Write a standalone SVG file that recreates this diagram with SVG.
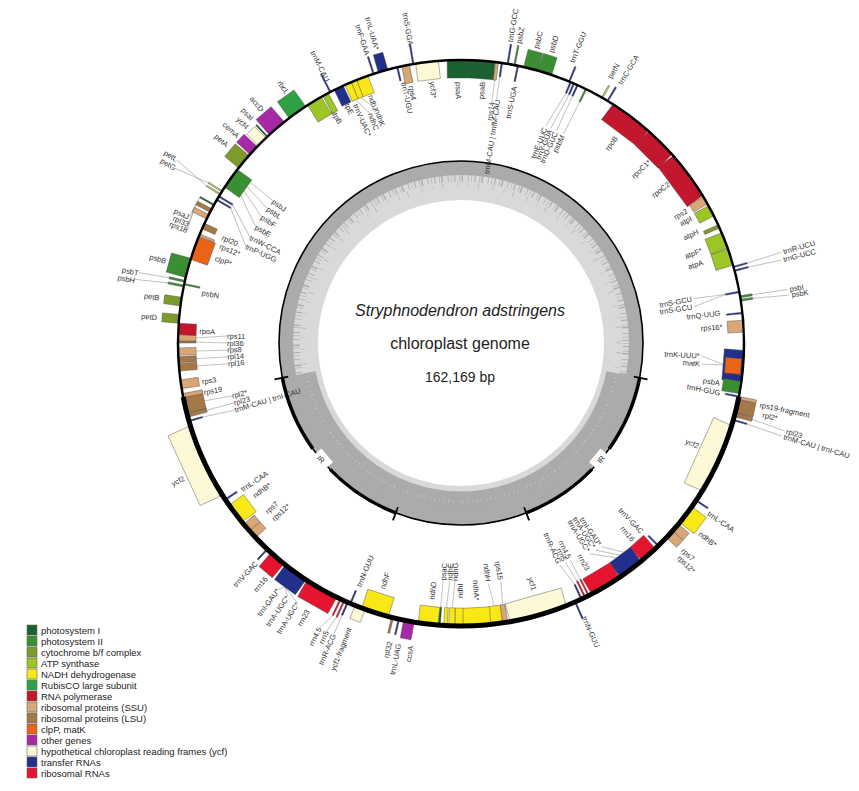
<svg xmlns="http://www.w3.org/2000/svg" width="859" height="791" viewBox="0 0 859 791">
<style>
.l{font-family:"Liberation Sans",Arial,sans-serif;font-size:7.5px;fill:#333}
.s{text-anchor:start}.e{text-anchor:end}
.g rect{stroke:#444;stroke-width:0.4}
.ld line{stroke:#8a8a8a;stroke-width:0.5}
.psI{fill:#1b6132}.psII{fill:#3a8f32}.cyt{fill:#7e9a2c}.cytL{fill:#b8d36a}.atp{fill:#9cc526}.yel{fill:#f7e816}.rub{fill:#2fa043}
.rnap{fill:#c2172c}.ssu{fill:#d8a677}.lsu{fill:#a57947}.clp{fill:#ea6316}.oth{fill:#a62aa6}.ycf{fill:#fdf9d6}.t{fill:#22308c}.rr{fill:#e51530}
.lg{font-family:"Liberation Sans",Arial,sans-serif;font-size:9.5px;fill:#222}
.lgr{stroke:#666;stroke-width:0.6}
</style>
<rect width="859" height="791" fill="#fff"/>
<g id="gc">
<circle cx="461" cy="343" r="162.5" fill="none" stroke="#d9d9d9" stroke-width="39"/>
<circle cx="461" cy="343" r="175" fill="none" stroke="#ababab" stroke-width="14"/>
<circle cx="461" cy="343" r="165" fill="none" stroke="#ababab" stroke-width="7" stroke-dasharray="0.5 2.5 1 4 0.6 1.5 1.4 5 0.7 3"/>
<circle cx="461" cy="343" r="158" fill="none" stroke="#b3b3b3" stroke-width="5" stroke-dasharray="0.5 9 0.8 14 0.5 11"/>
<path d="M616.2,373.2 A158 158 0 0 1 305.8 373.2" fill="none" stroke="#ababab" stroke-width="20"/>
<path d="M616.2,373.2 A158 158 0 0 1 305.8 373.2" fill="none" stroke="#c4c4c4" stroke-width="3" stroke-dasharray="0.5 4 1 3 0.6 5"/>
</g>
<g id="labels">
<text class="l s" dy="2.6" transform="rotate(-0.6 461 343) translate(461 82) rotate(90)">psaA</text>
<text class="l e" dy="2.6" transform="rotate(4.7 461 343) translate(461 81) rotate(-90)">psaB</text>
<text class="l e" dy="2.6" transform="rotate(7.3 461 343) translate(461 100) rotate(-90)">rps14</text>
<text class="l e" dy="2.6" transform="rotate(8.6 461 343) translate(461 97) rotate(-90)">trnM-CAU | trnfM-CAU</text>
<text class="l s" dy="2.6" transform="rotate(9.3 461 343) translate(461 38) rotate(-90)">trnG-GCC</text>
<text class="l s" dy="2.6" transform="rotate(10.9 461 343) translate(461 38) rotate(-90)">psbZ</text>
<text class="l e" dy="2.6" transform="rotate(11.8 461 343) translate(461 81) rotate(-90)">trnS-UGA</text>
<text class="l s" dy="2.6" transform="rotate(14.3 461 343) translate(461 39) rotate(-90)">psbC</text>
<text class="l s" dy="2.6" transform="rotate(17.2 461 343) translate(461 39) rotate(-90)">psbD</text>
<text class="l s" dy="2.6" transform="rotate(21.6 461 343) translate(461 41) rotate(-90)">trnT-GGU</text>
<text class="l e" dy="2.6" transform="rotate(21.3 461 343) translate(461 112) rotate(-90)">trnE-UUC</text>
<text class="l e" dy="2.6" transform="rotate(22.7 461 343) translate(461 112) rotate(-90)">trnY-GUA</text>
<text class="l e" dy="2.6" transform="rotate(24.2 461 343) translate(461 112) rotate(-90)">trnD-GUC</text>
<text class="l e" dy="2.6" transform="rotate(26.1 461 343) translate(461 112) rotate(-90)">psbM</text>
<text class="l s" dy="2.6" transform="rotate(29.3 461 343) translate(461 39) rotate(-90)">petN</text>
<text class="l s" dy="2.6" transform="rotate(31.5 461 343) translate(461 39) rotate(-90)">trnC-GCA</text>
<text class="l e" dy="2.6" transform="rotate(37 461 343) translate(461 85) rotate(-90)">rpoB</text>
<text class="l e" dy="2.6" transform="rotate(46 461 343) translate(461 81) rotate(-90)">rpoC1*</text>
<text class="l e" dy="2.6" transform="rotate(52.5 461 343) translate(461 81) rotate(-90)">rpoC2</text>
<text class="l e" dy="2.6" transform="rotate(59.6 461 343) translate(461 81) rotate(-90)">rps2</text>
<text class="l e" dy="2.6" transform="rotate(61.5 461 343) translate(461 81) rotate(-90)">atpI</text>
<text class="l e" dy="2.6" transform="rotate(64.8 461 343) translate(461 81) rotate(-90)">atpH</text>
<text class="l e" dy="2.6" transform="rotate(68.9 461 343) translate(461 85) rotate(-90)">atpF*</text>
<text class="l e" dy="2.6" transform="rotate(71.5 461 343) translate(461 88) rotate(-90)">atpA</text>
<text class="l s" dy="2.6" transform="rotate(74.2 461 343) translate(461 8) rotate(-90)">trnR-UCU</text>
<text class="l s" dy="2.6" transform="rotate(75.5 461 343) translate(461 10) rotate(-90)">trnG-UCC</text>
<text class="l e" dy="2.6" transform="rotate(79.2 461 343) translate(461 108) rotate(-90)">trnS-GCU</text>
<text class="l e" dy="2.6" transform="rotate(81.1 461 343) translate(461 109) rotate(-90)">trnS-GCU</text>
<text class="l s" dy="2.6" transform="rotate(80.7 461 343) translate(461 10) rotate(-90)">psbI</text>
<text class="l s" dy="2.6" transform="rotate(81.7 461 343) translate(461 9) rotate(-90)">psbK</text>
<text class="l e" dy="2.6" transform="rotate(83.4 461 343) translate(461 82) rotate(-90)">trnQ-UUG</text>
<text class="l e" dy="2.6" transform="rotate(86.5 461 343) translate(461 81) rotate(-90)">rps16*</text>
<text class="l e" dy="2.6" transform="rotate(93.1 461 343) translate(461 104) rotate(-90)">trnK-UUU*</text>
<text class="l e" dy="2.6" transform="rotate(95 461 343) translate(461 103) rotate(-90)">matK</text>
<text class="l e" dy="2.6" transform="rotate(98.8 461 343) translate(461 81) rotate(-90)">psbA</text>
<text class="l e" dy="2.6" transform="rotate(100.9 461 343) translate(461 79) rotate(-90)">trnH-GUG</text>
<text class="l s" dy="2.6" transform="rotate(101.7 461 343) translate(461 38) rotate(-90)">rps19-fragment</text>
<text class="l s" dy="2.6" transform="rotate(103.4 461 343) translate(461 33) rotate(-90)">rpl2*</text>
<text class="l s" dy="2.6" transform="rotate(105.2 461 343) translate(461 6) rotate(-90)">rpl23</text>
<text class="l s" dy="2.6" transform="rotate(106.2 461 343) translate(461 7) rotate(-90)">trnM-CAU | trnI-CAU</text>
<text class="l e" dy="2.6" transform="rotate(113.5 461 343) translate(461 84) rotate(-90)">ycf2</text>
<text class="l s" dy="2.6" transform="rotate(124.5 461 343) translate(461 43) rotate(-90)">trnL-CAA</text>
<text class="l s" dy="2.6" transform="rotate(128.5 461 343) translate(461 38) rotate(-90)">ndhB*</text>
<text class="l s" dy="2.6" transform="rotate(133 461 343) translate(461 40) rotate(-90)">rps7</text>
<text class="l s" dy="2.6" transform="rotate(134.5 461 343) translate(461 38) rotate(-90)">rps12*</text>
<text class="l e" dy="2.6" transform="rotate(136.3 461 343) translate(461 81) rotate(-90)">trnV-GAC</text>
<text class="l e" dy="2.6" transform="rotate(138.9 461 343) translate(461 81) rotate(-90)">rrn16</text>
<text class="l e" dy="2.6" transform="rotate(145.5 461 343) translate(461 98) rotate(-90)">trnI-GAU*</text>
<text class="l e" dy="2.6" transform="rotate(147 461 343) translate(461 99) rotate(-90)">trnA-UGC*</text>
<text class="l e" dy="2.6" transform="rotate(148.6 461 343) translate(461 99) rotate(-90)">trnA-UGC*</text>
<text class="l e" dy="2.6" transform="rotate(150.8 461 343) translate(461 83) rotate(-90)">rrn23</text>
<text class="l e" dy="2.6" transform="rotate(153.3 461 343) translate(461 102) rotate(-90)">rrn4.5</text>
<text class="l e" dy="2.6" transform="rotate(154.6 461 343) translate(461 102) rotate(-90)">rrn5</text>
<text class="l e" dy="2.6" transform="rotate(156 461 343) translate(461 102) rotate(-90)">trnR-ACG</text>
<text class="l s" dy="2.6" transform="rotate(155.8 461 343) translate(461 43) rotate(-90)">trnN-GUU</text>
<text class="l e" dy="2.6" transform="rotate(163.5 461 343) translate(461 85) rotate(-90)">ycf1</text>
<text class="l e" dy="2.6" transform="rotate(170.5 461 343) translate(461 103) rotate(-90)">rps15</text>
<text class="l e" dy="2.6" transform="rotate(173.5 461 343) translate(461 103) rotate(-90)">ndhH</text>
<text class="l e" dy="2.6" transform="rotate(176.5 461 343) translate(461 85) rotate(-90)">ndhA*</text>
<text class="l s" dy="2.6" transform="rotate(-179.8 461 343) translate(461 88) rotate(90)">ndhI</text>
<text class="l s" dy="2.6" transform="rotate(-178.6 461 343) translate(461 105) rotate(90)">ndhG</text>
<text class="l s" dy="2.6" transform="rotate(-177.3 461 343) translate(461 105) rotate(90)">ndhE</text>
<text class="l s" dy="2.6" transform="rotate(-175.7 461 343) translate(461 105) rotate(90)">psaC</text>
<text class="l s" dy="2.6" transform="rotate(-173.5 461 343) translate(461 85) rotate(90)">ndhD</text>
<text class="l e" dy="2.6" transform="rotate(-170.6 461 343) translate(461 36) rotate(90)">ccsA</text>
<text class="l e" dy="2.6" transform="rotate(-168.3 461 343) translate(461 36) rotate(90)">trnL-UAG</text>
<text class="l e" dy="2.6" transform="rotate(-166.6 461 343) translate(461 36) rotate(90)">rpl32</text>
<text class="l s" dy="2.6" transform="rotate(-162.3 461 343) translate(461 85) rotate(90)">ndhF</text>
<text class="l s" dy="2.6" transform="rotate(-157.2 461 343) translate(461 79) rotate(90)">trnN-GUU</text>
<text class="l e" dy="2.6" transform="rotate(-158.6 461 343) translate(461 37) rotate(90)">ycf1-fragment</text>
<text class="l e" dy="2.6" transform="rotate(-156.4 461 343) translate(461 25) rotate(90)">trnR-ACG</text>
<text class="l e" dy="2.6" transform="rotate(-155 461 343) translate(461 25) rotate(90)">rrn5</text>
<text class="l e" dy="2.6" transform="rotate(-153.6 461 343) translate(461 25) rotate(90)">rrn4.5</text>
<text class="l e" dy="2.6" transform="rotate(-150.2 461 343) translate(461 35) rotate(90)">rrn23</text>
<text class="l e" dy="2.6" transform="rotate(-147.8 461 343) translate(461 36) rotate(90)">trnA-UGC*</text>
<text class="l e" dy="2.6" transform="rotate(-145.6 461 343) translate(461 36) rotate(90)">trnA-UGC*</text>
<text class="l e" dy="2.6" transform="rotate(-143.4 461 343) translate(461 36) rotate(90)">trnI-GAU*</text>
<text class="l e" dy="2.6" transform="rotate(-140.3 461 343) translate(461 38) rotate(90)">rrn16</text>
<text class="l e" dy="2.6" transform="rotate(-137 461 343) translate(461 43) rotate(90)">trnV-GAC</text>
<text class="l s" dy="2.6" transform="rotate(-133.2 461 343) translate(461 85) rotate(90)">rps12*</text>
<text class="l s" dy="2.6" transform="rotate(-131 461 343) translate(461 85) rotate(90)">rps7</text>
<text class="l s" dy="2.6" transform="rotate(-126.5 461 343) translate(461 85) rotate(90)">ndhB*</text>
<text class="l s" dy="2.6" transform="rotate(-123.8 461 343) translate(461 79) rotate(90)">trnL-CAA</text>
<text class="l e" dy="2.6" transform="rotate(-116 461 343) translate(461 35) rotate(90)">ycf2</text>
<text class="l s" dy="2.6" transform="rotate(-106.5 461 343) translate(461 107) rotate(90)">trnM-CAU | trnI-CAU</text>
<text class="l s" dy="2.6" transform="rotate(-104.8 461 343) translate(461 108) rotate(90)">rpl23</text>
<text class="l s" dy="2.6" transform="rotate(-103 461 343) translate(461 108) rotate(90)">rpl2*</text>
<text class="l s" dy="2.6" transform="rotate(-100.9 461 343) translate(461 81) rotate(90)">rps19</text>
<text class="l s" dy="2.6" transform="rotate(-98.5 461 343) translate(461 81) rotate(90)">rps3</text>
<text class="l s" dy="2.6" transform="rotate(-95.1 461 343) translate(461 109) rotate(90)">rpl16</text>
<text class="l s" dy="2.6" transform="rotate(-93.4 461 343) translate(461 109) rotate(90)">rpl14</text>
<text class="l s" dy="2.6" transform="rotate(-91.7 461 343) translate(461 109) rotate(90)">rps8</text>
<text class="l s" dy="2.6" transform="rotate(-90 461 343) translate(461 109) rotate(90)">rpl36</text>
<text class="l s" dy="2.6" transform="rotate(-88.3 461 343) translate(461 109) rotate(90)">rps11</text>
<text class="l s" dy="2.6" transform="rotate(-87.4 461 343) translate(461 81) rotate(90)">rpoA</text>
<text class="l e" dy="2.6" transform="rotate(-85.2 461 343) translate(461 38) rotate(90)">petD</text>
<text class="l e" dy="2.6" transform="rotate(-81.5 461 343) translate(461 38) rotate(90)">petB</text>
<text class="l s" dy="2.6" transform="rotate(-79 461 343) translate(461 79) rotate(90)">psbN</text>
<text class="l e" dy="2.6" transform="rotate(-79.2 461 343) translate(461 11) rotate(90)">psbH</text>
<text class="l e" dy="2.6" transform="rotate(-77.8 461 343) translate(461 13) rotate(90)">psbT</text>
<text class="l e" dy="2.6" transform="rotate(-74.5 461 343) translate(461 37) rotate(90)">psbB</text>
<text class="l s" dy="2.6" transform="rotate(-71 461 343) translate(461 83) rotate(90)">clpP*</text>
<text class="l s" dy="2.6" transform="rotate(-68.1 461 343) translate(461 83) rotate(90)">rps12*</text>
<text class="l s" dy="2.6" transform="rotate(-66.1 461 343) translate(461 82) rotate(90)">rpl20</text>
<text class="l e" dy="2.6" transform="rotate(-67.7 461 343) translate(461 47) rotate(90)">rps18</text>
<text class="l e" dy="2.6" transform="rotate(-66.5 461 343) translate(461 46) rotate(90)">rpl33</text>
<text class="l e" dy="2.6" transform="rotate(-65.2 461 343) translate(461 43) rotate(90)">psaJ</text>
<text class="l s" dy="2.6" transform="rotate(-65.8 461 343) translate(461 107) rotate(90)">trnP-UGG</text>
<text class="l s" dy="2.6" transform="rotate(-63.4 461 343) translate(461 107) rotate(90)">trnW-CCA</text>
<text class="l s" dy="2.6" transform="rotate(-60.5 461 343) translate(461 107) rotate(90)">psbE</text>
<text class="l s" dy="2.6" transform="rotate(-57.7 461 343) translate(461 107) rotate(90)">psbF</text>
<text class="l s" dy="2.6" transform="rotate(-55.2 461 343) translate(461 107) rotate(90)">psbL</text>
<text class="l s" dy="2.6" transform="rotate(-52.9 461 343) translate(461 107) rotate(90)">psbJ</text>
<text class="l e" dy="2.6" transform="rotate(-58.6 461 343) translate(461 8) rotate(90)">petG</text>
<text class="l e" dy="2.6" transform="rotate(-57.2 461 343) translate(461 5) rotate(90)">petL</text>
<text class="l e" dy="2.6" transform="rotate(-49.8 461 343) translate(461 37) rotate(90)">petA</text>
<text class="l e" dy="2.6" transform="rotate(-47.2 461 343) translate(461 39) rotate(90)">cemA</text>
<text class="l e" dy="2.6" transform="rotate(-44.8 461 343) translate(461 40) rotate(90)">ycf4</text>
<text class="l e" dy="2.6" transform="rotate(-43 461 343) translate(461 37) rotate(90)">psaI</text>
<text class="l e" dy="2.6" transform="rotate(-40.5 461 343) translate(461 37) rotate(90)">accD</text>
<text class="l e" dy="2.6" transform="rotate(-34.8 461 343) translate(461 39) rotate(90)">rbcL</text>
<text class="l e" dy="2.6" transform="rotate(-27 461 343) translate(461 49) rotate(90)">trnM-CAU</text>
<text class="l s" dy="2.6" transform="rotate(-28.8 461 343) translate(461 77) rotate(90)">atpB</text>
<text class="l s" dy="2.6" transform="rotate(-25.5 461 343) translate(461 74) rotate(90)">atpE</text>
<text class="l s" dy="2.6" transform="rotate(-23.9 461 343) translate(461 82) rotate(90)">trnV-UAC*</text>
<text class="l s" dy="2.6" transform="rotate(-21.6 461 343) translate(461 96) rotate(90)">ndhC</text>
<text class="l s" dy="2.6" transform="rotate(-19.8 461 343) translate(461 95) rotate(90)">ndhK</text>
<text class="l s" dy="2.6" transform="rotate(-20.1 461 343) translate(461 79) rotate(90)">ndhJ</text>
<text class="l e" dy="2.6" transform="rotate(-18 461 343) translate(461 40) rotate(90)">trnF-GAA</text>
<text class="l e" dy="2.6" transform="rotate(-16 461 343) translate(461 38) rotate(90)">trnL-UAA*</text>
<text class="l s" dy="2.6" transform="rotate(-12.4 461 343) translate(461 76) rotate(90)">trnT-UGU</text>
<text class="l s" dy="2.6" transform="rotate(-11 461 343) translate(461 81) rotate(90)">rps4</text>
<text class="l e" dy="2.6" transform="rotate(-9.6 461 343) translate(461 41) rotate(90)">trnS-GGA</text>
<text class="l s" dy="2.6" transform="rotate(-6.3 461 343) translate(461 80) rotate(90)">ycf3*</text>
</g>
<g id="connectors" class="ld">
<line x1="461" y1="46" x2="459.8" y2="10" transform="rotate(74.4 461 343)"/>
<line x1="461" y1="46" x2="462.7" y2="12" transform="rotate(75.2 461 343)"/>
<line x1="461" y1="48" x2="461.6" y2="12" transform="rotate(80.6 461 343)"/>
<line x1="461" y1="48" x2="463.3" y2="11" transform="rotate(81.3 461 343)"/>
<line x1="461" y1="74" x2="459.3" y2="106" transform="rotate(79.6 461 343)"/>
<line x1="461" y1="74" x2="467.2" y2="107" transform="rotate(79.6 461 343)"/>
<line x1="461" y1="80" x2="454.5" y2="102" transform="rotate(94.65 461 343)"/>
<line x1="461" y1="78" x2="461.8" y2="101" transform="rotate(94.8 461 343)"/>
<line x1="461" y1="42" x2="463.9" y2="8" transform="rotate(104.7 461 343)"/>
<line x1="461" y1="46" x2="463.3" y2="9" transform="rotate(105.8 461 343)"/>
<line x1="456.4" y1="78" x2="471.1" y2="96.2" transform="rotate(143.15 461 343)"/>
<line x1="461" y1="78" x2="477.6" y2="96.6" transform="rotate(143.15 461 343)"/>
<line x1="465.6" y1="78" x2="484.5" y2="97.1" transform="rotate(143.15 461 343)"/>
<line x1="461" y1="78" x2="461.4" y2="100" transform="rotate(153.2 461 343)"/>
<line x1="461" y1="78" x2="463.5" y2="100" transform="rotate(154 461 343)"/>
<line x1="461" y1="76" x2="466.1" y2="100" transform="rotate(154.8 461 343)"/>
<line x1="461" y1="78" x2="458.9" y2="101" transform="rotate(171 461 343)"/>
<line x1="461" y1="78" x2="464" y2="101" transform="rotate(172.8 461 343)"/>
<line x1="461" y1="72" x2="454.9" y2="110" transform="rotate(22.8 461 343)"/>
<line x1="461" y1="72" x2="457.75" y2="110" transform="rotate(23.5 461 343)"/>
<line x1="461" y1="72" x2="460.6" y2="110" transform="rotate(24.3 461 343)"/>
<line x1="461" y1="74" x2="460.6" y2="110" transform="rotate(26.2 461 343)"/>
<line x1="461" y1="74" x2="461" y2="97" transform="rotate(8.3 461 343)"/>
<line x1="461" y1="78" x2="461" y2="100" transform="rotate(7.3 461 343)"/>
<line x1="461" y1="76" x2="435.5" y2="108.4" transform="rotate(-59.6 461 343)"/>
<line x1="461" y1="76" x2="442.1" y2="107.8" transform="rotate(-58.8 461 343)"/>
<line x1="452.8" y1="78" x2="435.9" y2="108.3" transform="rotate(-54.4 461 343)"/>
<line x1="458.3" y1="78" x2="447.4" y2="107.6" transform="rotate(-54.4 461 343)"/>
<line x1="463.7" y1="78" x2="457.7" y2="107" transform="rotate(-54.4 461 343)"/>
<line x1="469.2" y1="78" x2="467.2" y2="107" transform="rotate(-54.4 461 343)"/>
<line x1="461" y1="78" x2="463.5" y2="109" transform="rotate(-88.9 461 343)"/>
<line x1="461" y1="78" x2="460.2" y2="109" transform="rotate(-89.8 461 343)"/>
<line x1="461" y1="78" x2="461" y2="109" transform="rotate(-91.75 461 343)"/>
<line x1="461" y1="78" x2="461" y2="109" transform="rotate(-93.4 461 343)"/>
<line x1="461" y1="78" x2="460.4" y2="109" transform="rotate(-94.95 461 343)"/>
<line x1="461" y1="80" x2="459.8" y2="108" transform="rotate(-102.7 461 343)"/>
<line x1="461" y1="80" x2="461" y2="108" transform="rotate(-104.8 461 343)"/>
<line x1="461" y1="74" x2="458.9" y2="107" transform="rotate(-106 461 343)"/>
<line x1="461" y1="44" x2="459.3" y2="13" transform="rotate(-77.4 461 343)"/>
<line x1="461" y1="44" x2="457.8" y2="11" transform="rotate(-78.4 461 343)"/>
<line x1="461" y1="44" x2="467.5" y2="5" transform="rotate(-58.3 461 343)"/>
<line x1="461" y1="44" x2="455.2" y2="8" transform="rotate(-57.6 461 343)"/>
<line x1="461" y1="44" x2="438" y2="43.9" transform="rotate(-60.8 461 343)"/>
<line x1="461" y1="44" x2="438.2" y2="46.9" transform="rotate(-62.1 461 343)"/>
<line x1="461" y1="44" x2="439.3" y2="47.8" transform="rotate(-63.5 461 343)"/>
<line x1="461" y1="42" x2="465.3" y2="36" transform="rotate(-144.2 461 343)"/>
<line x1="461" y1="42" x2="453.5" y2="36.1" transform="rotate(-144.2 461 343)"/>
<line x1="461" y1="42" x2="441.7" y2="36.6" transform="rotate(-144.2 461 343)"/>
<line x1="461" y1="42" x2="467.7" y2="25" transform="rotate(-154.8 461 343)"/>
<line x1="461" y1="42" x2="464.3" y2="25" transform="rotate(-155.6 461 343)"/>
<line x1="461" y1="46" x2="461" y2="25" transform="rotate(-156.4 461 343)"/>
<line x1="461" y1="78" x2="459.2" y2="105" transform="rotate(-176.85 461 343)"/>
<line x1="461" y1="78" x2="459" y2="105" transform="rotate(-178.1 461 343)"/>
<line x1="461" y1="78" x2="460.6" y2="105" transform="rotate(-175.6 461 343)"/>
<line x1="461" y1="78" x2="471.4" y2="95.2" transform="rotate(-22.2 461 343)"/>
<line x1="461" y1="78" x2="469.2" y2="96.1" transform="rotate(-23.5 461 343)"/>
</g>
<g id="inner-circle">
<circle cx="461" cy="343" r="182" fill="none" stroke="#000" stroke-width="1.6"/>
<path d="M282.3,377.7 A182,182 0 0 0 312.8,448.7 M330.1,469.4 A182,182 0 0 0 395.8,512.9 M639.7,377.7 A182,182 0 0 1 609.2,448.7 M591.9,469.4 A182,182 0 0 1 526.2,512.9" fill="none" stroke="#000" stroke-width="3.5"/>
<path d="M288.2,376.6 L274.5,379.3 M397.9,507.3 L392.9,520.4 M633.8,376.6 L647.5,379.3 M524.1,507.3 L529.1,520.4" stroke="#000" stroke-width="1.8"/>
<rect x="313" y="452" width="18" height="14" fill="#fff" transform="rotate(50 321 459.3)"/>
<rect x="591" y="452" width="18" height="14" fill="#fff" transform="rotate(-50 601 459.3)"/>
<text class="l" font-size="8" text-anchor="middle" dy="2.8" transform="translate(321 459.3) rotate(50)">IR</text>
<text class="l" font-size="8" text-anchor="middle" dy="2.8" transform="translate(601 459.3) rotate(-50)">IR</text>
<text x="460" y="316" text-anchor="middle" font-family="Liberation Sans, Arial, sans-serif" font-size="16" font-style="italic" fill="#222">Stryphnodendron adstringens</text>
<text x="460" y="349" text-anchor="middle" font-family="Liberation Sans, Arial, sans-serif" font-size="16" fill="#222">chloroplast genome</text>
<text x="460" y="382" text-anchor="middle" font-family="Liberation Sans, Arial, sans-serif" font-size="14" fill="#222">162,169 bp</text>
</g>
<g id="genes" class="g">
<g id="psaA"><rect class="psI" x="448.65" y="60" width="24.7" height="18" transform="rotate(-0.3 461 343)"/></g>
<g id="psaB"><rect class="psI" x="449.4" y="60" width="23.2" height="18" transform="rotate(4.55 461 343)"/></g>
<g id="rps14"><rect class="ssu" x="459.5" y="60" width="3" height="18" transform="rotate(7.3 461 343)"/></g>
<g id="trnfM"><rect class="t" x="460.25" y="60" width="1.5" height="14" transform="rotate(8.3 461 343)"/></g>
<g id="trnG-GCC"><rect class="t" x="460.25" y="40" width="1.5" height="20" transform="rotate(9.5 461 343)"/></g>
<g id="psbZ"><rect class="psII" x="460.25" y="40" width="1.5" height="20" transform="rotate(10.9 461 343)"/></g>
<g id="trnS-UGA"><rect class="t" x="460.25" y="60" width="1.5" height="16" transform="rotate(11.6 461 343)"/></g>
<g id="psbC"><rect class="psII" x="453.6" y="42" width="14.8" height="18" transform="rotate(14.3 461 343)"/></g>
<g id="psbD"><rect class="psII" x="453.85" y="42" width="14.3" height="18" transform="rotate(17.25 461 343)"/></g>
<g id="trnT-GGU"><rect class="t" x="460.25" y="44" width="1.5" height="16" transform="rotate(22.5 461 343)"/></g>
<g id="trnE-UUC"><rect class="t" x="460.25" y="60" width="1.5" height="12" transform="rotate(22.8 461 343)"/></g>
<g id="trnY-GUA"><rect class="t" x="460.25" y="60" width="1.5" height="12" transform="rotate(23.5 461 343)"/></g>
<g id="trnD-GUC"><rect class="t" x="460.25" y="60" width="1.5" height="12" transform="rotate(24.3 461 343)"/></g>
<g id="psbM"><rect class="psII" x="460.25" y="60" width="1.5" height="14" transform="rotate(26.2 461 343)"/></g>
<g id="petN"><rect class="cytL" x="460.25" y="46" width="1.5" height="14" transform="rotate(29.9 461 343)"/></g>
<g id="trnC-GCA"><rect class="t" x="460.25" y="44" width="1.5" height="16" transform="rotate(31.2 461 343)"/></g>
<g id="rpoB"><rect class="rnap" x="439" y="60" width="44" height="20" transform="rotate(36.95 461 343)"/></g>
<g id="rpoC1"><rect class="rnap" x="444.7" y="60" width="32.6" height="20" transform="rotate(44.9 461 343)"/></g>
<g id="rpoC2"><rect class="rnap" x="436.3" y="60" width="49.4" height="20" transform="rotate(53.6 461 343)"/></g>
<g id="rps2"><rect class="ssu" x="456.8" y="60" width="8.4" height="16" transform="rotate(59.75 461 343)"/></g>
<g id="atpI"><rect class="atp" x="455.3" y="60" width="11.4" height="16" transform="rotate(62.15 461 343)"/></g>
<g id="atpH"><rect class="cyt" x="459.25" y="60" width="3.5" height="16" transform="rotate(65.65 461 343)"/></g>
<g id="atpF"><rect class="atp" x="452.85" y="60" width="16.3" height="18" transform="rotate(68.75 461 343)"/></g>
<g id="atpA"><rect class="atp" x="452.6" y="60" width="16.8" height="18" transform="rotate(72.3 461 343)"/></g>
<g id="trnR-UCU"><rect class="t" x="460.25" y="46" width="1.5" height="14" transform="rotate(74.4 461 343)"/></g>
<g id="trnG-UCC"><rect class="t" x="460.25" y="46" width="1.5" height="14" transform="rotate(75.2 461 343)"/></g>
<g id="trnS-GCU"><rect class="t" x="460.25" y="60" width="1.5" height="14" transform="rotate(79.6 461 343)"/></g>
<g id="psbI"><rect class="psII" x="460" y="48" width="2" height="12" transform="rotate(80.6 461 343)"/></g>
<g id="psbK"><rect class="psII" x="460" y="48" width="2" height="12" transform="rotate(81.3 461 343)"/></g>
<g id="trnQ-UUG"><rect class="t" x="460.25" y="60" width="1.5" height="16" transform="rotate(83.9 461 343)"/></g>
<g id="rps16"><rect class="ssu" x="455.05" y="60" width="11.9" height="16" transform="rotate(86.6 461 343)"/></g>
<g id="trnK-UUU"><rect class="t" x="445.45" y="60" width="31.1" height="20" transform="rotate(94.65 461 343)"/></g>
<g id="matK"><rect class="clp" x="453.1" y="62" width="15.8" height="16" transform="rotate(94.8 461 343)"/></g>
<g id="psbA"><rect class="psII" x="454.85" y="60" width="12.3" height="18" transform="rotate(99.05 461 343)"/></g>
<g id="trnH-GUG"><rect class="t" x="460.25" y="60" width="1.5" height="14" transform="rotate(100.9 461 343)"/></g>
<g id="rps19-fragment"><rect class="ssu" x="459.5" y="42" width="3" height="18" transform="rotate(101.2 461 343)"/></g>
<g id="rpl2-a"><rect class="lsu" x="454.1" y="42" width="13.8" height="18" transform="rotate(102.9 461 343)"/></g>
<g id="rpl23-a"><rect class="lsu" x="459" y="42" width="4" height="18" transform="rotate(104.7 461 343)"/></g>
<g id="trnM-a"><rect class="t" x="460.25" y="46" width="1.5" height="14" transform="rotate(105.8 461 343)"/></g>
<g id="ycf2-a"><rect class="ycf" x="425.2" y="60" width="71.6" height="22" transform="rotate(114.25 461 343)"/></g>
<g id="trnL-CAA-a"><rect class="t" x="460.25" y="46" width="1.5" height="14" transform="rotate(123.8 461 343)"/></g>
<g id="ndhB-a"><rect class="yel" x="450.9" y="42" width="20.2" height="18" transform="rotate(127.35 461 343)"/></g>
<g id="rps7-a"><rect class="ssu" x="456.55" y="46" width="8.9" height="14" transform="rotate(130.7 461 343)"/></g>
<g id="rps12-a"><rect class="ssu" x="456.3" y="46" width="9.4" height="14" transform="rotate(132.55 461 343)"/></g>
<g id="trnV-GAC-a"><rect class="t" x="460.25" y="60" width="1.5" height="14" transform="rotate(135.8 461 343)"/></g>
<g id="rrn16-a"><rect class="rr" x="451.85" y="60" width="18.3" height="18" transform="rotate(138.45 461 343)"/></g>
<g id="trnIA-a"><rect class="t" x="447.9" y="60" width="26.2" height="18" transform="rotate(143.15 461 343)"/></g>
<g id="rrn23-a"><rect class="rr" x="444.95" y="60" width="32.1" height="18" transform="rotate(149.25 461 343)"/></g>
<g id="rrn4.5-a"><rect class="rr" x="460.25" y="60" width="1.5" height="18" transform="rotate(153.2 461 343)"/></g>
<g id="rrn5-a"><rect class="rr" x="460.25" y="60" width="1.5" height="18" transform="rotate(154 461 343)"/></g>
<g id="trnR-ACG-a"><rect class="t" x="460.25" y="60" width="1.5" height="16" transform="rotate(154.8 461 343)"/></g>
<g id="trnN-GUU-a"><rect class="t" x="460.25" y="42" width="1.5" height="18" transform="rotate(156.2 461 343)"/></g>
<g id="ycf1"><rect class="ycf" x="431.85" y="60" width="58.3" height="20" transform="rotate(164.1 461 343)"/></g>
<g id="rps15"><rect class="ssu" x="458.55" y="60" width="4.9" height="18" transform="rotate(171 461 343)"/></g>
<g id="ndhH"><rect class="yel" x="455.05" y="60" width="11.9" height="18" transform="rotate(172.8 461 343)"/></g>
<g id="ndhA"><rect class="yel" x="447.15" y="60" width="27.7" height="18" transform="rotate(176.8 461 343)"/></g>
<g id="ndhI"><rect class="yel" x="457.05" y="60" width="7.9" height="18" transform="rotate(-179.6 461 343)"/></g>
<g id="ndhG"><rect class="yel" x="458.05" y="60" width="5.9" height="18" transform="rotate(-178.1 461 343)"/></g>
<g id="ndhE"><rect class="yel" x="459.25" y="60" width="3.5" height="18" transform="rotate(-176.85 461 343)"/></g>
<g id="psaC"><rect class="psI" x="460" y="60" width="2" height="18" transform="rotate(-175.6 461 343)"/></g>
<g id="ndhD"><rect class="yel" x="451.1" y="60" width="19.8" height="18" transform="rotate(-173.3 461 343)"/></g>
<g id="ccsA"><rect class="oth" x="455.55" y="42" width="10.9" height="18" transform="rotate(-169.4 461 343)"/></g>
<g id="trnL-UAG"><rect class="t" x="460.25" y="44" width="1.5" height="16" transform="rotate(-167.3 461 343)"/></g>
<g id="rpl32"><rect class="lsu" x="460" y="44" width="2" height="16" transform="rotate(-166 461 343)"/></g>
<g id="ndhF"><rect class="yel" x="447.15" y="60" width="27.7" height="20" transform="rotate(-162.3 461 343)"/></g>
<g id="ycf1-fragment"><rect class="ycf" x="455.55" y="46" width="10.9" height="14" transform="rotate(-159.1 461 343)"/></g>
<g id="trnN-GUU-b"><rect class="t" x="460.25" y="60" width="1.5" height="14" transform="rotate(-157 461 343)"/></g>
<g id="trnR-ACG-b"><rect class="t" x="460.25" y="46" width="1.5" height="14" transform="rotate(-156.4 461 343)"/></g>
<g id="rrn5-b"><rect class="rr" x="460.25" y="42" width="1.5" height="18" transform="rotate(-155.6 461 343)"/></g>
<g id="rrn4.5-b"><rect class="rr" x="460.25" y="42" width="1.5" height="18" transform="rotate(-154.8 461 343)"/></g>
<g id="rrn23-b"><rect class="rr" x="443.7" y="42" width="34.6" height="18" transform="rotate(-150.5 461 343)"/></g>
<g id="trnAI-b"><rect class="t" x="448.15" y="42" width="25.7" height="18" transform="rotate(-144.2 461 343)"/></g>
<g id="rrn16-b"><rect class="rr" x="452.35" y="42" width="17.3" height="18" transform="rotate(-139.55 461 343)"/></g>
<g id="trnV-GAC-b"><rect class="t" x="460.25" y="46" width="1.5" height="14" transform="rotate(-136.8 461 343)"/></g>
<g id="rps12-b"><rect class="ssu" x="456.3" y="60" width="9.4" height="14" transform="rotate(-132.55 461 343)"/></g>
<g id="rps7-b"><rect class="ssu" x="456.55" y="60" width="8.9" height="14" transform="rotate(-130.7 461 343)"/></g>
<g id="ndhB-b"><rect class="yel" x="450.4" y="60" width="21.2" height="18" transform="rotate(-127.15 461 343)"/></g>
<g id="trnL-CAA-b"><rect class="t" x="460.25" y="60" width="1.5" height="14" transform="rotate(-123.6 461 343)"/></g>
<g id="ycf2-b"><rect class="ycf" x="422.7" y="38" width="76.6" height="22" transform="rotate(-114.75 461 343)"/></g>
<g id="trnM-b"><rect class="t" x="460.25" y="60" width="1.5" height="14" transform="rotate(-106 461 343)"/></g>
<g id="rpl23-b"><rect class="lsu" x="459" y="60" width="4" height="20" transform="rotate(-104.8 461 343)"/></g>
<g id="rpl2-b"><rect class="lsu" x="453.1" y="60" width="15.8" height="20" transform="rotate(-102.7 461 343)"/></g>
<g id="rps19"><rect class="ssu" x="459" y="60" width="4" height="20" transform="rotate(-100.7 461 343)"/></g>
<g id="rps3"><rect class="ssu" x="456.55" y="60" width="8.9" height="18" transform="rotate(-98.4 461 343)"/></g>
<g id="rpl16"><rect class="lsu" x="457.3" y="60" width="7.4" height="18" transform="rotate(-94.95 461 343)"/></g>
<g id="rpl14"><rect class="lsu" x="458.05" y="60" width="5.9" height="18" transform="rotate(-93.4 461 343)"/></g>
<g id="rps8"><rect class="ssu" x="457.3" y="60" width="7.4" height="18" transform="rotate(-91.75 461 343)"/></g>
<g id="rpl36"><rect class="lsu" x="460" y="60" width="2" height="18" transform="rotate(-89.8 461 343)"/></g>
<g id="rps11"><rect class="ssu" x="458.05" y="60" width="5.9" height="18" transform="rotate(-88.9 461 343)"/></g>
<g id="rpoA"><rect class="rnap" x="455.3" y="60" width="11.4" height="18" transform="rotate(-87.15 461 343)"/></g>
<g id="petD"><rect class="cyt" x="456.55" y="43" width="8.9" height="17" transform="rotate(-85.1 461 343)"/></g>
<g id="petB"><rect class="cyt" x="456.55" y="43" width="8.9" height="17" transform="rotate(-81.6 461 343)"/></g>
<g id="psbN"><rect class="psII" x="460.25" y="60" width="1.5" height="16" transform="rotate(-78 461 343)"/></g>
<g id="psbH"><rect class="psII" x="460" y="44" width="2" height="16" transform="rotate(-78.4 461 343)"/></g>
<g id="psbT"><rect class="psII" x="460" y="44" width="2" height="16" transform="rotate(-77.4 461 343)"/></g>
<g id="psbB"><rect class="psII" x="451.1" y="40" width="19.8" height="20" transform="rotate(-74.6 461 343)"/></g>
<g id="clpP"><rect class="clp" x="449.15" y="60" width="23.7" height="18" transform="rotate(-70.4 461 343)"/></g>
<g id="rps12-5"><rect class="ssu" x="459.75" y="60" width="2.5" height="16" transform="rotate(-67.6 461 343)"/></g>
<g id="rpl20"><rect class="lsu" x="458" y="60" width="6" height="14" transform="rotate(-65.6 461 343)"/></g>
<g id="rps18"><rect class="ssu" x="458.5" y="44" width="5" height="16" transform="rotate(-63.5 461 343)"/></g>
<g id="rpl33"><rect class="lsu" x="459" y="44" width="4" height="16" transform="rotate(-62.1 461 343)"/></g>
<g id="psaJ"><rect class="psI" x="460.25" y="44" width="1.5" height="16" transform="rotate(-60.8 461 343)"/></g>
<g id="trnP-UGG"><rect class="t" x="460.25" y="60" width="1.5" height="16" transform="rotate(-59.6 461 343)"/></g>
<g id="trnW-CCA"><rect class="t" x="460.25" y="60" width="1.5" height="16" transform="rotate(-58.8 461 343)"/></g>
<g id="petL"><rect class="cytL" x="460.25" y="44" width="1.5" height="16" transform="rotate(-58.3 461 343)"/></g>
<g id="petG"><rect class="cytL" x="460.25" y="44" width="1.5" height="16" transform="rotate(-57.6 461 343)"/></g>
<g id="psbEFLJ"><rect class="psII" x="450.15" y="60" width="21.7" height="18" transform="rotate(-54.4 461 343)"/></g>
<g id="petA"><rect class="cyt" x="452.85" y="42" width="16.3" height="18" transform="rotate(-50.15 461 343)"/></g>
<g id="cemA"><rect class="oth" x="455.55" y="42" width="10.9" height="18" transform="rotate(-47.15 461 343)"/></g>
<g id="ycf4"><rect class="ycf" x="455.55" y="44" width="10.9" height="16" transform="rotate(-44.7 461 343)"/></g>
<g id="psaI"><rect class="psI" x="460.25" y="44" width="1.5" height="16" transform="rotate(-43.2 461 343)"/></g>
<g id="accD"><rect class="oth" x="451.1" y="40" width="19.8" height="20" transform="rotate(-40.65 461 343)"/></g>
<g id="rbcL"><rect class="rub" x="450.85" y="40" width="20.3" height="20" transform="rotate(-35.35 461 343)"/></g>
<g id="atpB"><rect class="atp" x="453.1" y="60" width="15.8" height="20" transform="rotate(-31.2 461 343)"/></g>
<g id="atpE"><rect class="atp" x="458" y="60" width="6" height="20" transform="rotate(-28.6 461 343)"/></g>
<g id="trnM-CAU"><rect class="t" x="460.25" y="40" width="1.5" height="20" transform="rotate(-27.5 461 343)"/></g>
<g id="trnV-UAC"><rect class="t" x="456.05" y="60" width="9.9" height="18" transform="rotate(-25.6 461 343)"/></g>
<g id="ndhC"><rect class="yel" x="457.55" y="60" width="6.9" height="18" transform="rotate(-23.5 461 343)"/></g>
<g id="ndhK"><rect class="yel" x="458.05" y="60" width="5.9" height="18" transform="rotate(-22.2 461 343)"/></g>
<g id="ndhJ"><rect class="yel" x="455.05" y="60" width="11.9" height="18" transform="rotate(-20.4 461 343)"/></g>
<g id="trnF-GAA"><rect class="t" x="460.25" y="42" width="1.5" height="18" transform="rotate(-18 461 343)"/></g>
<g id="trnL-UAA"><rect class="t" x="456.05" y="42" width="9.9" height="18" transform="rotate(-16 461 343)"/></g>
<g id="trnT-UGU"><rect class="t" x="460.25" y="60" width="1.5" height="14" transform="rotate(-13 461 343)"/></g>
<g id="rps4"><rect class="ssu" x="457.05" y="60" width="7.9" height="18" transform="rotate(-11.3 461 343)"/></g>
<g id="trnS-GGA"><rect class="t" x="460.25" y="40" width="1.5" height="20" transform="rotate(-9.7 461 343)"/></g>
<g id="ycf3"><rect class="ycf" x="449.65" y="60" width="22.7" height="18" transform="rotate(-6.9 461 343)"/></g>
</g>
<g id="ring">
<circle cx="461" cy="343" r="283" fill="none" stroke="#000" stroke-width="2.5"/>
<path d="M738.8,397 A283 283 0 0 1 183.2,397" fill="none" stroke="#000" stroke-width="5"/>
</g>
<g id="legend">
<rect class="lgr psI" x="27" y="625" width="10" height="10"/><text class="lg" x="41" y="633.5">photosystem I</text>
<rect class="lgr psII" x="27" y="636" width="10" height="10"/><text class="lg" x="41" y="644.5">photosystem II</text>
<rect class="lgr cyt" x="27" y="647" width="10" height="10"/><text class="lg" x="41" y="655.5">cytochrome b/f complex</text>
<rect class="lgr atp" x="27" y="658" width="10" height="10"/><text class="lg" x="41" y="666.5">ATP synthase</text>
<rect class="lgr yel" x="27" y="669" width="10" height="10"/><text class="lg" x="41" y="677.5">NADH dehydrogenase</text>
<rect class="lgr rub" x="27" y="680" width="10" height="10"/><text class="lg" x="41" y="688.5">RubisCO large subunit</text>
<rect class="lgr rnap" x="27" y="691" width="10" height="10"/><text class="lg" x="41" y="699.5">RNA polymerase</text>
<rect class="lgr ssu" x="27" y="702" width="10" height="10"/><text class="lg" x="41" y="710.5">ribosomal proteins (SSU)</text>
<rect class="lgr lsu" x="27" y="713" width="10" height="10"/><text class="lg" x="41" y="721.5">ribosomal proteins (LSU)</text>
<rect class="lgr clp" x="27" y="724" width="10" height="10"/><text class="lg" x="41" y="732.5">clpP, matK</text>
<rect class="lgr oth" x="27" y="735" width="10" height="10"/><text class="lg" x="41" y="743.5">other genes</text>
<rect class="lgr ycf" x="27" y="746" width="10" height="10"/><text class="lg" x="41" y="754.5">hypothetical chloroplast reading frames (ycf)</text>
<rect class="lgr t" x="27" y="757" width="10" height="10"/><text class="lg" x="41" y="765.5">transfer RNAs</text>
<rect class="lgr rr" x="27" y="768" width="10" height="10"/><text class="lg" x="41" y="776.5">ribosomal RNAs</text>
</g>
</svg>
